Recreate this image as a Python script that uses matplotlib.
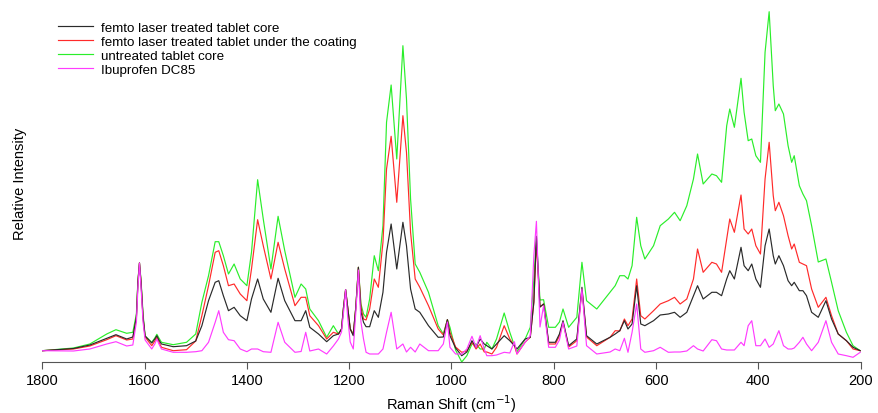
import numpy as np
import matplotlib.pyplot as plt

plt.rcParams['font.family'] = ['Liberation Sans', 'DejaVu Sans']

# Raman shift (cm-1) and intensities (arbitrary units)
shift = [1800, 1739, 1707, 1674, 1656, 1635, 1623, 1616, 1613, 1610, 1607, 1603, 1599,
         1586, 1580, 1576, 1572, 1567, 1544, 1518, 1500, 1488, 1475, 1462, 1455, 1446,
         1436, 1425, 1413, 1400, 1391, 1379, 1368, 1353, 1339, 1326, 1306, 1294, 1285,
         1277, 1260, 1244, 1231, 1221, 1215, 1211, 1207, 1203, 1198, 1192, 1187, 1182,
         1177, 1172, 1167, 1160, 1151, 1143, 1134, 1127, 1118, 1107, 1095, 1088, 1080,
         1071, 1062, 1045, 1026, 1016, 1008, 1003, 992, 980, 970, 960, 952, 944, 936,
         931, 921, 912, 897, 886, 877, 872, 856, 846, 839, 834, 827, 820, 810, 797, 789,
         782, 771, 755, 745, 736, 716, 690, 680, 671, 662, 655, 647, 638, 630, 622, 605,
         592, 576, 564, 553, 540, 527, 519, 508, 491, 482, 472, 462, 456, 447, 434, 428,
         420, 413, 405, 396, 387, 379, 371, 367, 360, 351, 342, 335, 330, 320, 313, 306,
         296, 283, 268, 257, 244, 228, 215, 201]

core_treated = [11.3, 13.5, 17, 23.7, 27.3, 23, 25, 45, 80, 99, 80, 45, 26,
                19, 23, 26.3, 22, 18, 15.3, 16.3, 21, 36.3, 61.3, 79.7, 81.3, 66.3,
                51.3, 54.7, 46.3, 41.3, 63, 83, 63, 49.7, 83.7, 61.3, 41.3, 41.3, 51.3,
                34.7, 28, 20.3, 26.3, 28, 33, 55, 72.3, 55, 33, 26.3, 55, 94.7,
                50, 39.7, 35.3, 35.3, 51.3, 44.7, 69.7, 109.7, 138, 93, 139.7, 116.3, 73,
                53, 49.7, 36.3, 24.7, 25, 42.3, 26.3, 14, 6.3, 10, 21.3, 14.7, 23, 18,
                16.3, 13, 18, 26.3, 21.3, 16.3, 13, 23, 24.7, 60, 125.7, 55, 58, 19.7, 19.7, 28,
                41.3, 16.3, 23, 74.7, 26.3, 18, 24.7, 28, 31.3, 41.3, 33, 38, 76.3, 38, 36.3, 41.3,
                47, 48, 49.7, 44.7, 49.7, 66.3, 76.3, 63, 69.7, 69.7, 66.3, 83, 91.3, 83, 114.7, 96.3,
                91.3, 98, 83, 74.7, 116.3, 133, 106.3, 98, 106.3, 96.3, 81.3, 76.3, 79.7, 71.3, 71.3, 66.3,
                49.7, 44.7, 61.3, 43, 28, 21.3, 14.7, 11.3]

core_coated = [11.3, 13, 16, 22.3, 26.3, 22, 23, 44, 80, 99, 80, 44, 25,
               16.3, 21, 24.7, 20, 14.7, 11.3, 12.3, 21, 46.3, 76.3, 109.7, 111.3, 96.3,
               76.3, 78, 68, 61.3, 93, 142.3, 116.3, 83, 119.7, 93, 56.3, 64.7, 64.7,
               46.3, 36.3, 23, 29.7, 28, 33, 55, 72.3, 55, 33, 27.5, 55, 94.7,
               55, 43, 42, 53, 83, 74.7, 119.7, 193, 225.7, 159.7, 246.3, 209.7, 129.7,
               83, 74.7, 56.3, 33, 27, 42.3, 29.7, 15, 9.7, 11, 19.7, 13, 18, 10,
               10, 8, 14.7, 36.3, 23, 16.3, 8, 20, 24.7, 60, 120, 55, 58, 18, 18, 26,
               40, 15, 21.3, 73, 25, 16.3, 24.7, 31.3, 31, 43, 36.3, 43, 83, 46.3, 43, 51.3,
               58, 61.3, 64.7, 58, 63, 83, 113, 89.7, 99.7, 98, 89.7, 123, 143, 129.7, 167, 133,
               128, 133, 116.3, 108, 183, 219.7, 166.3, 151.3, 159.7, 146.3, 126.3, 113, 118, 99.7, 98, 96.3,
               73, 54.7, 64.7, 46.3, 28, 21.3, 13, 11.3]

core_untreated = [11.3, 14, 18, 28, 32.3, 28.7, 29.7, 48, 82, 99, 82, 48, 26,
                  19.7, 24, 27.7, 24, 19.7, 17.3, 19.7, 28, 59.7, 86.3, 120.3, 120.3, 106.3,
                  88, 98, 83, 76.3, 109.7, 182.3, 143, 93, 145.7, 111.3, 64.7, 78, 73,
                  53, 41.3, 24.7, 36.3, 28, 33, 55, 72.3, 55, 33, 28, 55, 94.7,
                  58, 48, 44.7, 63, 106.3, 91.3, 136.3, 239.7, 277, 203, 316.3, 263, 163,
                  98, 89.7, 69.7, 36.3, 28, 42.3, 34.7, 12, 0, 6.3, 18, 18, 13, 13,
                  19.7, 13, 23, 49, 29.7, 16.3, 10.3, 23, 34.7, 83, 125, 62, 62.3, 34.7, 34.7, 40,
                  53, 34.7, 44.7, 99.7, 61.3, 53, 69.7, 76.3, 86.3, 86.3, 83, 96.3, 144.7, 116.3, 103, 116.3,
                  136.3, 143, 149.7, 141.3, 156.3, 183, 208, 178, 188, 186.3, 179.7, 236.3, 253, 234.7, 283.7, 249.7,
                  221.3, 223, 206.3, 199.7, 309.7, 350.3, 276.3, 251.3, 258, 248, 216.3, 199.7, 206.3, 176.3, 168, 161.3,
                  136.3, 100, 103, 79.7, 51.3, 29.7, 16.3, 11.3]

ibuprofen = [11.3, 11, 13, 18, 20.3, 16, 17, 40, 75, 99, 75, 40, 22,
             13, 18, 23, 18, 13, 9.7, 9.7, 10.3, 11.3, 19.7, 39.7, 51.3, 29.7,
             22.3, 21.3, 13, 10.3, 13, 13, 10.3, 9.7, 39.7, 19.7, 9.7, 10.5, 29.7,
             11, 13, 8, 16, 23, 30, 50, 72.3, 45, 20, 13, 50, 92,
             40, 23, 9.7, 8, 8, 8, 13, 29.7, 49.7, 13, 18, 10, 14.7,
             10, 18, 11.3, 11.3, 18, 40, 14.7, 8, 8, 13, 25.7, 14.7, 26.3, 13,
             6.3, 6.3, 7, 9.7, 9, 20.3, 8, 19.7, 26.3, 106.3, 140.7, 35, 56.3, 14.7, 14.7, 22,
             39.7, 13, 16, 73, 16.3, 8, 10, 13, 11.3, 23.7, 9.7, 29.7, 58, 13, 9.7, 11.3,
             14.7, 9.7, 10, 10, 11, 16.3, 13, 11, 22.3, 21.3, 13, 12, 12, 12, 19.7, 16.3,
             36.3, 41.3, 16.3, 16.3, 23, 14.7, 18, 23, 31.3, 16.3, 13, 13, 14, 19.7, 24.7, 18,
             11.3, 19.7, 41.3, 19.7, 8, 6.3, 4.7, 9.7]

labels = ['femto laser treated tablet core',
          'femto laser treated tablet under the coating',
          'untreated tablet core',
          'Ibuprofen DC85']
colors = ['#2a2a2a', '#ff2a2a', '#2aee2a', '#ff3cff']
series = [core_treated, core_coated, core_untreated, ibuprofen]

fig = plt.figure(figsize=(8.79, 4.14), dpi=100)
ax = fig.add_axes([0.0481, 0.1232, 0.9311, 0.8647])

handles = {}
# green first, magenta last so it sits on top
for i in [2, 1, 0, 3]:
    h, = ax.plot(shift, series[i], color=colors[i], lw=0.85, label=labels[i])
    handles[i] = h

ax.set_xlim(1800, 200)
ax.set_ylim(0, 358)
ax.set_xticks([1800, 1600, 1400, 1200, 1000, 800, 600, 400, 200])
ax.set_yticks([])
for s in ['top', 'right', 'left']:
    ax.spines[s].set_visible(False)
ax.spines['bottom'].set_color('#555555')
ax.tick_params(axis='x', direction='out', length=5, color='#555555',
               labelsize=10.5, pad=3)
ax.set_xlabel('Raman Shift (cm$^{-1}$)', fontsize=10.5, labelpad=4)
ax.set_ylabel('Relative Intensity', fontsize=10.5, labelpad=11)

fig.legend([handles[i] for i in range(4)], labels, loc='upper left',
           bbox_to_anchor=(0.066, 0.946), frameon=False, fontsize=9.6,
           handlelength=2.6, handletextpad=0.6, labelspacing=0.13,
           borderpad=0, borderaxespad=0)

fig.savefig('out.png', dpi=100)
